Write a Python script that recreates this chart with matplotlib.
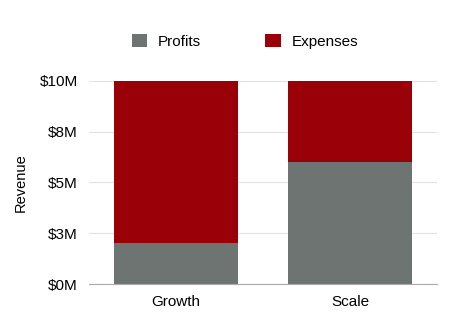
import matplotlib.pyplot as plt
import numpy as np

plt.rcParams['font.family'] = ['Liberation Sans', 'DejaVu Sans']

# Données
categories = ['Growth', 'Scale']
profits = [2.0, 6.0]
expenses = [8.0, 4.0]
tick_values = [0, 2.5, 5, 7.5, 10]
tick_labels = ['$0M', '$3M', '$5M', '$8M', '$10M']

fig = plt.figure(figsize=(4.74, 3.25), dpi=100)
ax = fig.add_axes([0.188, 0.126, 0.734, 0.625])

x = np.arange(len(categories))
ax.bar(x, profits, width=0.71, color='#6e7472', label='Profits', zorder=3)
ax.bar(x, expenses, width=0.71, bottom=profits, color='#990008',
       label='Expenses', zorder=3)

ax.set_xlim(-0.5, 1.5)
ax.set_ylim(0, 10)
ax.set_xticks(x)
ax.set_xticklabels(categories, fontsize=11)
ax.set_yticks(tick_values)
ax.set_yticklabels(tick_labels, fontsize=11)
ax.tick_params(axis='x', length=0, pad=8)
ax.tick_params(axis='y', length=0, pad=8)

ax.grid(axis='y', color='#e2e2e2', linewidth=0.8, zorder=0)
for side in ['left', 'right', 'top']:
    ax.spines[side].set_visible(False)
ax.spines['bottom'].set_color('#aaaaaa')
ax.spines['bottom'].set_zorder(4)

ax.set_ylabel('Revenue', fontsize=10.5, labelpad=9)

fig.legend(loc='center', bbox_to_anchor=(0.517, 0.873), ncol=2, frameon=False,
           fontsize=11, handlelength=1.0, handleheight=1.0,
           columnspacing=4.2, handletextpad=0.7)

plt.savefig('out.png')
plt.close()
